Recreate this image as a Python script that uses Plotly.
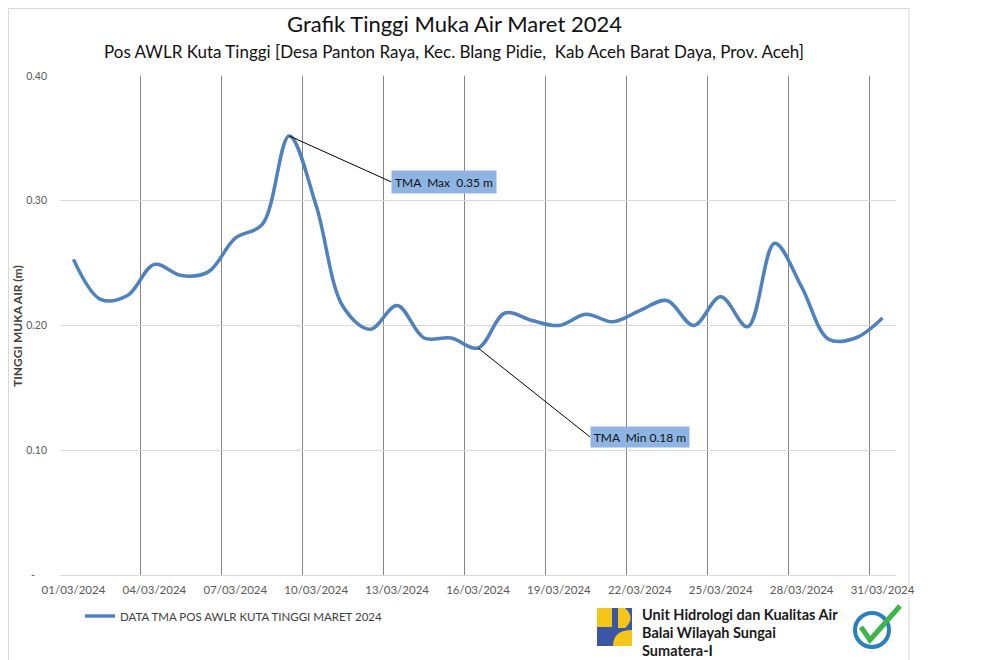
import plotly.graph_objects as go

# ---- data ----
dates = [f"{d:02d}/03/2024" for d in range(1, 32)]
tma = [0.253, 0.221, 0.224, 0.249, 0.240, 0.243, 0.270, 0.281, 0.352, 0.296,
       0.215, 0.197, 0.216, 0.190, 0.190, 0.182, 0.210, 0.204, 0.200, 0.209,
       0.203, 0.212, 0.220, 0.200, 0.223, 0.199, 0.266, 0.231, 0.189, 0.190,
       0.206]
series_name = "DATA TMA POS AWLR KUTA TINGGI MARET 2024"
y_tickvals = [0, 0.1, 0.2, 0.3, 0.4]
y_ticktext = ["-\u2007\u2007", "0.10", "0.20", "0.30", "0.40"]
x_tickvals = dates[::3]

# layout geometry (screen pixels; page body has an 8px margin)
OFF = 8
L, R, T, B = 60, 896, 76, 575
W, H = 984 - OFF, 660 - OFF
def px(x):
    return (x - L) / (R - L)
def py(y):
    return (B - y) / (B - T)

FONT = "Lato"
fig = go.Figure()
fig.add_trace(go.Scatter(
    x=dates, y=tma, mode="lines", name=series_name,
    line=dict(color="#4F81BD", width=3.5, shape="spline", smoothing=1),
))

imax = tma.index(max(tma))
imin = tma.index(min(tma))

annotations = [
    dict(text="Grafik Tinggi Muka Air Maret 2024", x=px(454), y=py(24), xref="paper", yref="paper",
         showarrow=False, font=dict(family=FONT, size=22, color="#111111"), xanchor="center", yanchor="middle"),
    dict(text="Pos AWLR Kuta Tinggi [Desa Panton Raya, Kec. Blang Pidie,  Kab Aceh Barat Daya, Prov. Aceh]",
         x=px(454), y=py(52), xref="paper", yref="paper", showarrow=False,
         font=dict(family=FONT, size=17, color="#111111"), xanchor="center", yanchor="middle"),
    dict(text="<b>TINGGI MUKA AIR (m)</b>", x=px(17), y=py(326), xref="paper", yref="paper",
         showarrow=False, textangle=-90, font=dict(family=FONT, size=12, color="#404040"),
         xanchor="center", yanchor="middle"),
    dict(text="TMA  Max  0.35 m", x=dates[imax], y=tma[imax], xref="x", yref="y",
         showarrow=True, arrowhead=0, arrowwidth=1, arrowcolor="#000000", ax=102, ay=46,
         xanchor="left", yanchor="middle", bgcolor="#8DB4E2", width=100, height=18, borderpad=2,
         font=dict(family=FONT, size=12, color="#111111")),
    dict(text="TMA  Min 0.18 m", x=dates[imin], y=tma[imin], xref="x", yref="y",
         showarrow=True, arrowhead=0, arrowwidth=1, arrowcolor="#000000", ax=112, ay=89,
         xanchor="left", yanchor="middle", bgcolor="#8DB4E2", width=94, height=16, borderpad=2,
         font=dict(family=FONT, size=12, color="#111111")),
    dict(text="<b>Unit Hidrologi dan Kualitas Air</b>", x=px(640), y=py(614), xref="paper", yref="paper",
         showarrow=False, xanchor="left", yanchor="middle", font=dict(family=FONT, size=14.5, color="#1a1a1a")),
    dict(text="<b>Balai Wilayah Sungai</b>", x=px(640), y=py(632), xref="paper", yref="paper",
         showarrow=False, xanchor="left", yanchor="middle", font=dict(family=FONT, size=14.5, color="#1a1a1a")),
    dict(text="<b>Sumatera-I</b>", x=px(640), y=py(650), xref="paper", yref="paper",
         showarrow=False, xanchor="left", yanchor="middle", font=dict(family=FONT, size=14.5, color="#1a1a1a")),
]

def P(x, y):
    return f"{px(x)},{py(y)}"

shapes = [
    # chart area border
    dict(type="rect", xref="paper", yref="paper", x0=px(8.5), x1=px(909), y0=py(670), y1=py(8.5),
         line=dict(color="#d9d9d9", width=1), fillcolor="rgba(0,0,0,0)", layer="below"),
    # PU logo (approximation)
    dict(type="rect", xref="paper", yref="paper", x0=px(597), x1=px(632), y0=py(646), y1=py(608),
         line=dict(width=0), fillcolor="#3A56A5"),
    dict(type="rect", xref="paper", yref="paper", x0=px(597), x1=px(612), y0=py(627), y1=py(608),
         line=dict(width=0), fillcolor="#F5C518"),
    dict(type="path", xref="paper", yref="paper",
         path=f"M {P(618,608)} L {P(625,608)} Q {P(636,618)} {P(625,628)} L {P(618,628)} Z",
         line=dict(width=0), fillcolor="#F5C518"),
    dict(type="path", xref="paper", yref="paper",
         path=f"M {P(632,630)} Q {P(613,630)} {P(613,646)} L {P(632,646)} Z",
         line=dict(width=0), fillcolor="#F5C518"),
    # certified badge (approximation)
    dict(type="circle", xref="paper", yref="paper", x0=px(855), x1=px(889), y0=py(647), y1=py(613),
         line=dict(color="#2A7FC1", width=4), fillcolor="white"),
    dict(type="path", xref="paper", yref="paper",
         path=f"M {P(861,627)} L {P(870,640)} L {P(900,606)}",
         line=dict(color="#3DB54A", width=5)),
]

fig.update_layout(
    width=W, height=H,
    margin=dict(l=L - OFF, r=(984 - R), t=T - OFF, b=(660 - B)),
    paper_bgcolor="white", plot_bgcolor="white",
    font=dict(family=FONT, size=11, color="#595959"),
    showlegend=True,
    legend=dict(x=px(80), y=py(616), xanchor="left", yanchor="middle",
                font=dict(family=FONT, size=11.5, color="#404040"), bgcolor="rgba(0,0,0,0)"),
    annotations=annotations,
    shapes=shapes,
    xaxis=dict(type="category", tickson="boundaries", tickmode="array", tickvals=x_tickvals,
               ticktext=x_tickvals, range=[-0.5, 30.5], showgrid=True, gridcolor="#868686",
               gridwidth=1, showline=True, linecolor="#d9d9d9", linewidth=1, ticks="",
               tickangle=0, automargin=False,
               tickfont=dict(family=FONT, size=11.5, color="#595959"), ticklabelstandoff=4,
               zeroline=False),
    yaxis=dict(range=[0, 0.40], tickvals=y_tickvals, ticktext=y_ticktext, showgrid=True,
               gridcolor="#d9d9d9", gridwidth=1, zeroline=False, showline=False, ticks="",
               automargin=False,
               tickfont=dict(family=FONT, size=10.5, color="#595959"), ticklabelstandoff=12),
)

fig.write_html("out.html")
